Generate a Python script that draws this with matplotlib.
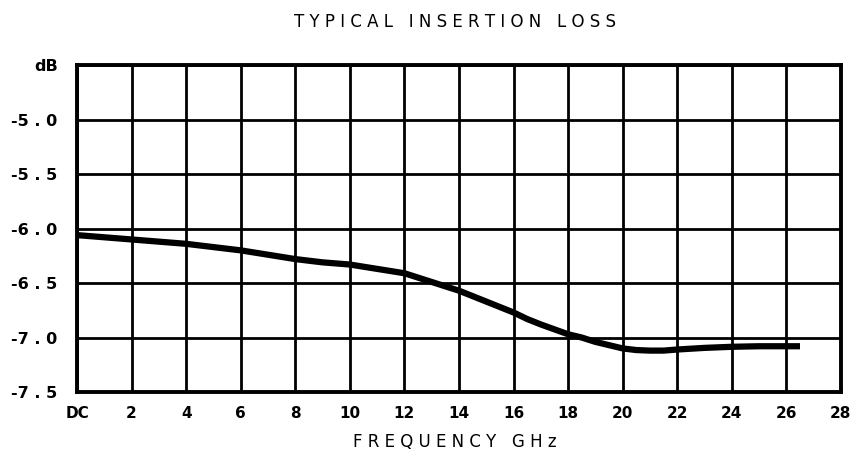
import matplotlib
matplotlib.use('Agg')
import matplotlib.pyplot as plt

# curve (GHz, dB)
freq_ghz = [0, 1, 2, 3, 4, 5, 6, 7, 8, 9, 10, 11, 11.5, 12, 12.5, 13, 13.5,
            14, 15, 16, 16.5, 17, 18, 18.5, 19, 19.5, 20, 20.5, 21, 21.5,
            22, 23, 24, 25, 26, 26.5]
loss_db = [-6.06, -6.08, -6.10, -6.12, -6.14, -6.17, -6.20, -6.24, -6.28,
           -6.31, -6.33, -6.37, -6.39, -6.41, -6.45, -6.49, -6.53, -6.57,
           -6.67, -6.77, -6.83, -6.88, -6.97, -7.00, -7.04, -7.07, -7.10,
           -7.115, -7.12, -7.12, -7.11, -7.095, -7.085, -7.08, -7.08, -7.08]

x_ticks = list(range(0, 29, 2))
x_labels = ['DC'] + [str(v) for v in x_ticks[1:]]
y_ticks = [-7.5, -7.0, -6.5, -6.0, -5.5, -5.0, -4.5]
y_labels = ['-7 . 5', '-7 . 0', '-6 . 5', '-6 . 0', '-5 . 5', '-5 . 0', 'dB']

fig = plt.figure(figsize=(8.52, 4.62), dpi=100)
ax = fig.add_axes([0.0904, 0.1515, 0.8966, 0.7075])

ax.plot(freq_ghz, loss_db, color='black', linewidth=4.5,
        solid_capstyle='butt', solid_joinstyle='round', zorder=3)

ax.set_xlim(0, 28)
ax.set_ylim(-7.5, -4.5)
ax.set_xticks(x_ticks)
ax.set_xticklabels(x_labels)
ax.set_yticks(y_ticks)
ax.set_yticklabels(y_labels)
ax.tick_params(axis='x', length=0, labelsize=11, pad=10)
ax.tick_params(axis='y', length=0, labelsize=11.5, pad=14)
for lbl in ax.get_xticklabels() + ax.get_yticklabels():
    lbl.set_fontweight('bold')

ax.grid(True, color='black', linewidth=2.0)
ax.set_axisbelow(True)
for s in ax.spines.values():
    s.set_linewidth(2.8)

fig.text(0.534, 0.952, 'T Y P I C A L   I N S E R T I O N   L O S S',
         ha='center', va='center', fontsize=12)
fig.text(0.534, 0.024, 'F R E Q U E N C Y   G H z',
         ha='center', va='bottom', fontsize=12)

fig.savefig('out.png', dpi=100)
